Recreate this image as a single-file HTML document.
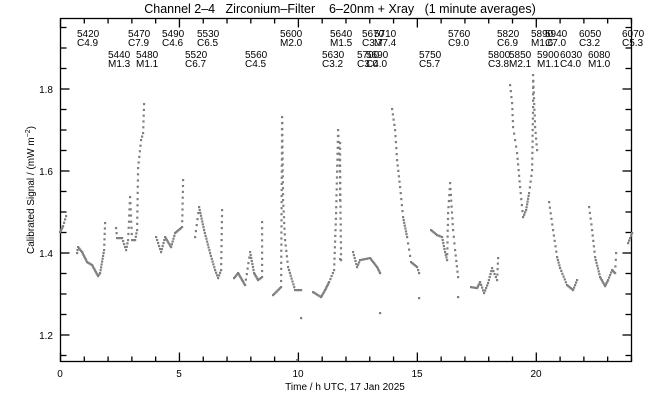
<!DOCTYPE html>
<html><head><meta charset="utf-8"><style>
html,body{margin:0;padding:0;background:#fff;}
svg{display:block;font-family:"Liberation Sans",sans-serif;}
text{white-space:pre;}
</style></head><body>
<svg id="s" width="650" height="400" viewBox="0 0 650 400" xmlns="http://www.w3.org/2000/svg">
<rect width="650" height="400" fill="#fff"/>
<text x="340" y="13" font-size="12.5" text-anchor="middle">Channel 2–4   Zirconium–Filter    6–20nm + Xray   (1 minute averages)</text>
<g id="axes" stroke="#000" stroke-width="1.3" fill="none">
<rect x="60.5" y="18.5" width="571" height="343"/>
</g>
<g id="ticks" stroke="#000" stroke-width="1.3"></g>
<g font-size="10" text-anchor="end">
<text x="53" y="93">1.8</text>
<text x="53" y="175">1.6</text>
<text x="53" y="257">1.4</text>
<text x="53" y="339">1.2</text>
</g>
<g font-size="10" text-anchor="middle">
<text x="60" y="377">0</text>
<text x="179" y="377">5</text>
<text x="298" y="377">10</text>
<text x="417" y="377">15</text>
<text x="536" y="377">20</text>
<text x="345" y="390">Time / h UTC, 17 Jan 2025</text>
</g>
<text transform="translate(34,190) rotate(-90)" font-size="10" text-anchor="middle">Calibrated Signal / (mW m<tspan dy="-4" font-size="7">−2</tspan><tspan dy="4">)</tspan></text>
<g font-size="10" id="fl"></g>
<g id="pts" fill="#808080"></g>
</svg>
<script>
(function(){
var NS="http://www.w3.org/2000/svg";
function el(p,t,a,txt){var e=document.createElementNS(NS,t);for(var k in a)e.setAttribute(k,a[k]);if(txt)e.textContent=txt;document.getElementById(p).appendChild(e);}
for(var h=0;h<=24;h++){var x=60.5+h*23.79;var L=(h%5==0)?9:5;
 el("ticks","line",{x1:x,y1:361.5,x2:x,y2:361.5-L});el("ticks","line",{x1:x,y1:18.5,x2:x,y2:18.5+L});}
for(var i=0;i<=16;i++){var v=1.15+i*0.05;var y=335-(v-1.2)*410;var maj=(i%4==1);var L=maj?9:6;
 el("ticks","line",{x1:60.5,y1:y,x2:60.5+L,y2:y});el("ticks","line",{x1:631.5,y1:y,x2:631.5-L,y2:y});}
var row1=[[77,"5420","C4.9"],[128,"5470","C7.9"],[162,"5490","C4.6"],[197,"5530","C6.5"],[280,"5600","M2.0"],[330,"5640","M1.5"],[362,"5670","C3.7"],[374,"5710","M7.4"],[448,"5760","C9.0"],[497,"5820","C6.9"],[531,"5890","M1.6"],[545,"5940","C7.0"],[579,"6050","C3.2"],[622,"6070","C5.3"]];
var row2=[[108,"5440","M1.3"],[136,"5480","M1.1"],[185,"5520","C6.7"],[245,"5560","C4.5"],[322,"5630","C3.2"],[357,"5700","C3.0"],[366,"5690","C4.0"],[419,"5750","C5.7"],[488,"5800","C3.8"],[509,"5850","M2.1"],[537,"5900","M1.1"],[560,"6030","C4.0"],[588,"6080","M1.0"]];
row1.forEach(function(a){el("fl","text",{x:a[0],y:37},a[1]);el("fl","text",{x:a[0],y:46},a[2]);});
row2.forEach(function(a){el("fl","text",{x:a[0],y:58},a[1]);el("fl","text",{x:a[0],y:67},a[2]);});
var S=[
[[60,232],[63,226],[66,216]],
[[77,253],[78,247],[82,252],[87,262],[92,265],[98,276],[100,273],[104,250],[105,223]],
[[116,228],[117,238],[122,238],[126,250],[128,240],[130,197],[132,240],[135,240],[137,230],[138,168],[141,140],[143,133],[144,104]],
[[156,237],[161,252],[165,237],[171,247],[175,233],[182,227],[183,180]],
[[195,237],[199,207],[204,230],[210,253],[215,270],[218,278],[221,270],[222,210]],
[[234,278],[238,273],[245,285],[250,252],[254,273],[258,280],[262,277],[262,222]],
[[273,295],[281,287],[282,117],[283,200],[285,240],[288,267],[295,290],[301,290]],
[[313,292],[321,297],[325,290],[329,282],[334,270],[336,213],[338,130],[340,177],[341,260]],
[[340,143],[340,200]],
[[353,252],[357,267],[360,260],[370,258],[377,267],[380,273]],
[[392,109],[395,130],[397,160],[400,187],[403,217],[407,237],[411,262],[417,267],[419,273]],
[[431,230],[437,235],[442,237],[445,252],[447,260],[448,213],[450,183],[453,230],[455,250],[458,277]],
[[471,287],[477,288],[480,282],[484,293],[488,283],[492,268],[497,280],[498,258]],
[[510,85],[512,103],[513,127],[517,153],[520,187],[523,217],[526,210],[529,193],[532,170],[533,107],[533,75],[535,127],[537,150]],
[[549,202],[553,230],[557,257],[560,268],[567,285],[573,290],[577,280]],
[[589,207],[592,230],[595,257],[600,277],[605,286],[608,280],[612,270],[615,273],[616,253]],
[[628,243],[632,233]]];
var out=[[301,318],[380,313],[419,298],[458,297],[297,360],[340,259]];
S.forEach(function(seg){
 for(var i=0;i<seg.length-1;i++){var a=seg[i],b=seg[i+1];var dx=b[0]-a[0],dy=b[1]-a[1];var d=Math.sqrt(dx*dx+dy*dy);var st=Math.abs(dy)>Math.abs(dx)*6?6:(Math.abs(dy)>Math.abs(dx)*2?3:1.6);var n=Math.max(1,Math.round(d/st));
  for(var j=0;j<n;j++){var t=j/n;el("pts","rect",{x:(a[0]+dx*t-1).toFixed(1),y:(a[1]+dy*t-1).toFixed(1),width:2.2,height:2.2});}}
 var l=seg[seg.length-1];el("pts","rect",{x:l[0]-1,y:l[1]-1,width:2.2,height:2.2});
});
out.forEach(function(p){el("pts","rect",{x:p[0]-1,y:p[1]-1,width:2.2,height:2.2});});
})();
</script>
</body></html>
